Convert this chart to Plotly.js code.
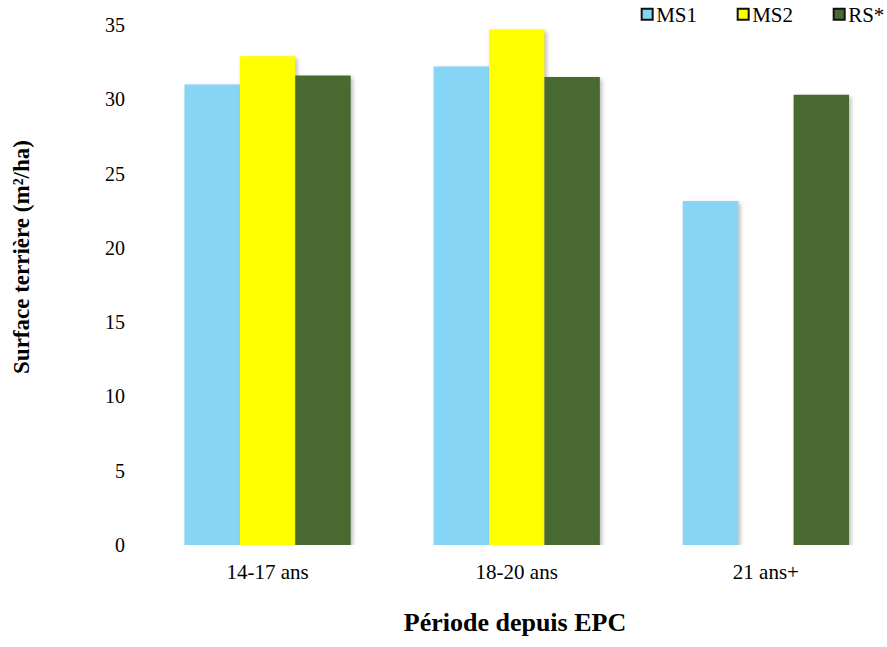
<!DOCTYPE html>
<html>
<head>
<meta charset="utf-8">
<script src="https://cdn.plot.ly/plotly-3.0.1.min.js"></script>
<style>
  html, body { margin: 0; padding: 0; background: #fff; }
  #chart { width: 887px; height: 647px; }
  .bars .point path { filter: drop-shadow(2px 2px 2px rgba(0,0,0,0.28)); }
  /* pull the legend swatches closer to their labels */
  .legend .legendpoints { transform: translateX(11px); }
</style>
</head>
<body>
<div id="chart"></div>
<script>
// Basal area by period since EPC, per treatment
const categories = ['14-17 ans', '18-20 ans', '21 ans+'];
const seriesNames = ['MS1', 'MS2', 'RS*'];
const ms1 = [31.0, 32.2, 23.15];
const ms2 = [32.9, 34.7, null];
const rs = [31.6, 31.5, 30.3];
const yTicks = [0, 5, 10, 15, 20, 25, 30, 35];

const colors = ['#87d5f5', '#ffff00', '#486a31'];
const serif = 'Book Antiqua, Palatino Linotype, Liberation Serif, DejaVu Serif, serif';

const values = [ms1, ms2, rs];
const traces = [];
values.forEach((vals, i) => {
  traces.push({
    type: 'bar',
    name: seriesNames[i],
    x: categories,
    y: vals,
    marker: { color: colors[i] },
    showlegend: false,
    hoverinfo: 'x+y+name'
  });
});
// legend swatches: coloured squares with a dark outline
seriesNames.forEach((n, i) => {
  traces.push({
    type: 'scatter',
    mode: 'markers',
    name: n,
    x: [null], y: [null],
    marker: { symbol: 'square', size: 11, color: colors[i], line: { color: '#111', width: 2 } },
    showlegend: true
  });
});

const layout = {
  width: 887,
  height: 647,
  margin: { l: 143, r: 0, t: 25, b: 102, autoexpand: false },
  paper_bgcolor: '#fff',
  plot_bgcolor: '#fff',
  barmode: 'group',
  bargap: 0.333,
  bargroupgap: 0,
  font: { family: serif, color: '#000', size: 20 },
  xaxis: {
    type: 'category',
    range: [-0.5, 2.486],
    showline: false,
    showgrid: false,
    zeroline: false,
    ticks: '',
    ticklabelstandoff: 12,
    tickfont: { family: serif, size: 21, color: '#000' },
    title: {
      text: '<b>Période depuis EPC</b>',
      font: { family: serif, size: 26, color: '#000' },
      standoff: 29
    }
  },
  yaxis: {
    range: [0, 35],
    tickvals: yTicks,
    showline: false,
    showgrid: false,
    zeroline: false,
    ticks: '',
    ticklabelstandoff: 17,
    tickfont: { family: serif, size: 20, color: '#000' }
  },
  legend: {
    orientation: 'h',
    x: 0.636, xanchor: 'left',
    y: 1.02, yanchor: 'middle',
    font: { family: serif, size: 21, color: '#000' },
    itemwidth: 30,
    entrywidth: 51,
    entrywidthmode: 'pixels',
    bgcolor: 'rgba(0,0,0,0)'
  },
  annotations: [{
    text: '<b>Surface terrière (m²/ha)</b>',
    textangle: -90,
    xref: 'paper', yref: 'paper',
    x: 0, y: 0.554,
    xanchor: 'center', yanchor: 'middle',
    xshift: -121,
    showarrow: false,
    font: { family: serif, size: 23, color: '#000' }
  }]
};

Plotly.newPlot('chart', traces, layout, { displayModeBar: false, staticPlot: true });
</script>
</body>
</html>
